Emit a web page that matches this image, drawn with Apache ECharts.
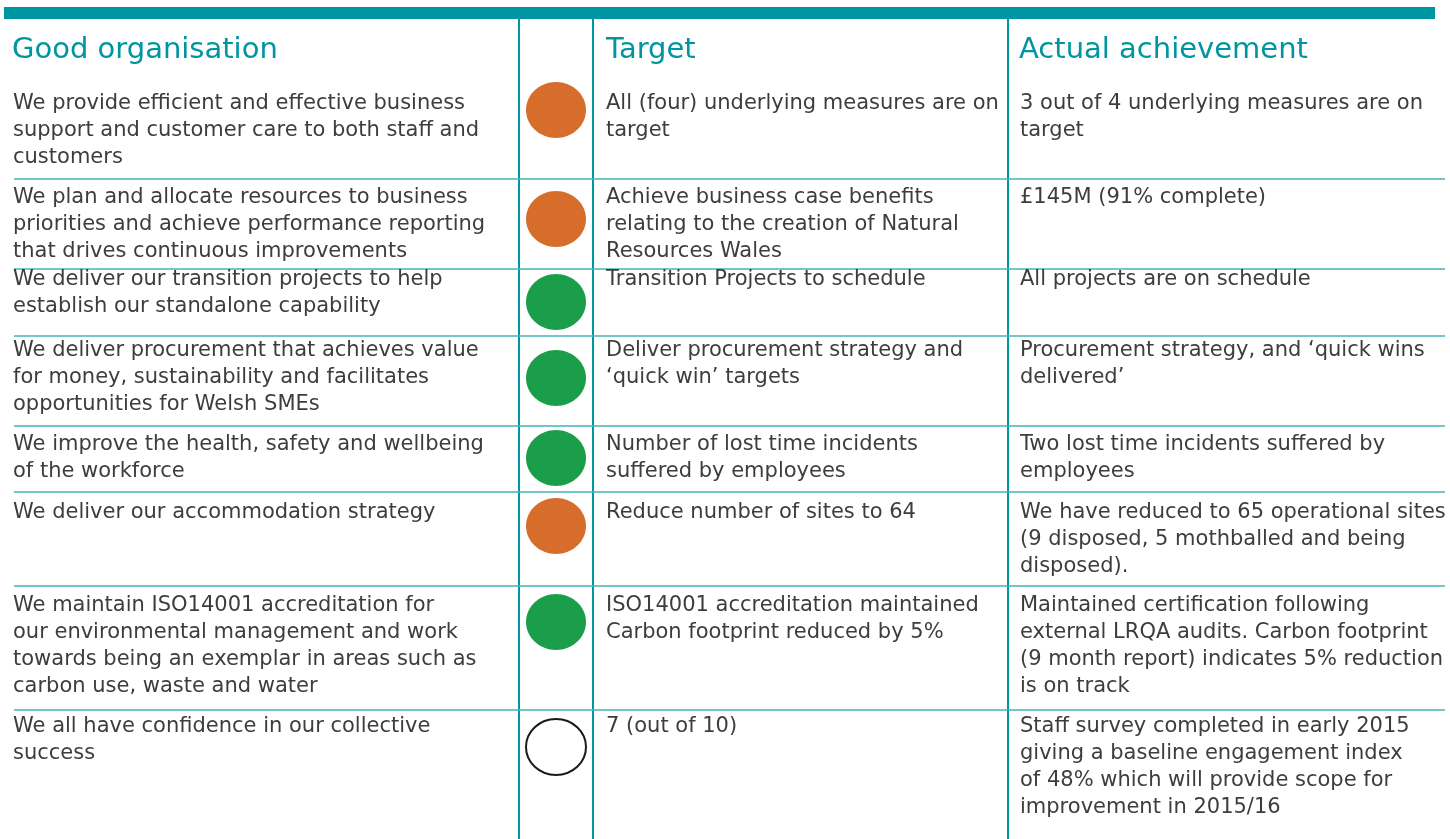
<!DOCTYPE html>
<html>
<head>
<meta charset="utf-8">
<script src="https://cdn.jsdelivr.net/npm/echarts@6/dist/echarts.min.js"></script>
<style>
html,body{margin:0;padding:0;background:#fff;}
#chart{width:1450px;height:839px;}
</style>
</head>
<body>
<div id="chart"></div>
<script>
// ---------- DATA ----------
const headers = ['Good organisation', 'Target', 'Actual achievement'];

const objectives = [
  'We provide efficient and effective business\nsupport and customer care to both staff and\ncustomers',
  'We plan and allocate resources to business\npriorities and achieve performance reporting\nthat drives continuous improvements',
  'We deliver our transition projects to help\nestablish our standalone capability',
  'We deliver procurement that achieves value\nfor money, sustainability and facilitates\nopportunities for Welsh SMEs',
  'We improve the health, safety and wellbeing\nof the workforce',
  'We deliver our accommodation strategy',
  'We maintain ISO14001 accreditation for\nour environmental management and work\ntowards being an exemplar in areas such as\ncarbon use, waste and water',
  'We all have confidence in our collective\nsuccess'
];

const statuses = ['amber', 'amber', 'green', 'green', 'green', 'amber', 'green', 'none'];

const targets = [
  'All (four) underlying measures are on\ntarget',
  'Achieve business case benefits\nrelating to the creation of Natural\nResources Wales',
  'Transition Projects to schedule',
  'Deliver procurement strategy and\n\u2018quick win\u2019 targets',
  'Number of lost time incidents\nsuffered by employees',
  'Reduce number of sites to 64',
  'ISO14001 accreditation maintained\nCarbon footprint reduced by 5%',
  '7 (out of 10)'
];

const achievements = [
  '3 out of 4 underlying measures are on\ntarget',
  '\u00a3145M (91% complete)',
  'All projects are on schedule',
  'Procurement strategy, and \u2018quick wins\ndelivered\u2019',
  'Two lost time incidents suffered by\nemployees',
  'We have reduced to 65 operational sites\n(9 disposed, 5 mothballed and being\ndisposed).',
  'Maintained certification following\nexternal LRQA audits. Carbon footprint\n(9 month report) indicates 5% reduction\nis on track',
  'Staff survey completed in early 2015\ngiving a baseline engagement index\nof 48% which will provide scope for\nimprovement in 2015/16'
];

// ---------- LAYOUT / STYLE ----------
const layout = {
  width: 1450, height: 839,
  colX: { desc: 13, status: 556, target: 606, actual: 1020 },
  divX: [519, 593, 1008],
  bar: { x0: 4, x1: 1435, y0: 7, y1: 19 },
  headerY: 50,
  lineX0: 14, lineX1: 1445,
  rowLine: [179, 269, 336, 426, 492, 586, 710],
  textY: [104, 198, 280, 351, 445, 513, 606, 727],
  circleY: [110, 219, 302, 378, 458, 526, 622, 747],
  circleRx: 30, circleRy: 28,
  lineH: 27
};
const style = {
  font: '"DejaVu Sans", sans-serif',
  bodySize: 21, headSize: 29,
  textColor: '#3d3d3d', headColor: '#0095a0',
  frameColor: '#0096a1', rowLineColor: '#44b3b9',
  statusColor: { amber: '#d66d2a', green: '#1a9e4a' }
};

// ---------- CHART ----------
const chart = echarts.init(document.getElementById('chart'), null, { renderer: 'canvas' });

function textEl(x, y, str, size, color, weight) {
  return {
    type: 'text',
    style: {
      x: x, y: y, text: str,
      fontFamily: style.font, fontSize: size, fontWeight: weight || 'normal',
      fill: color, lineHeight: layout.lineH,
      verticalAlign: 'top', align: 'left'
    }
  };
}

const rowIdx = objectives.map((_, i) => i);

const option = {
  animation: false,
  backgroundColor: '#ffffff',
  grid: { left: 0, right: 0, top: 0, bottom: 0 },
  xAxis: { type: 'value', min: 0, max: layout.width, show: false },
  yAxis: { type: 'value', min: 0, max: layout.height, inverse: true, show: false },
  series: [
    {
      type: 'custom',
      data: [0],
      silent: true,
      z: 1,
      renderItem: function (params, api) {
        const p0 = api.coord([layout.bar.x0, layout.bar.y0]);
        const p1 = api.coord([layout.bar.x1, layout.bar.y1]);
        const children = [{
          type: 'rect',
          shape: { x: p0[0], y: p0[1], width: p1[0] - p0[0], height: p1[1] - p0[1] },
          style: { fill: style.frameColor }
        }];
        layout.divX.forEach(function (dx) {
          const a = api.coord([dx, layout.bar.y1]);
          const b = api.coord([dx, layout.height]);
          children.push({
            type: 'line',
            shape: { x1: a[0], y1: a[1], x2: b[0], y2: b[1] },
            style: { stroke: style.frameColor, lineWidth: 2 }
          });
        });
        const hx = [layout.colX.desc - 1, layout.colX.target, layout.colX.actual - 1];
        headers.forEach(function (h, i) {
          const c = api.coord([hx[i], layout.headerY]);
          const t = textEl(c[0], c[1], h, style.headSize, style.headColor);
          t.style.verticalAlign = 'middle';
          t.style.lineHeight = style.headSize + 4;
          children.push(t);
        });
        return { type: 'group', children: children };
      }
    },
    {
      type: 'custom',
      data: rowIdx,
      silent: true,
      z: 2,
      renderItem: function (params, api) {
        const i = api.value(0);
        const children = [];
        const ty = layout.textY[i] - layout.lineH / 2;
        const cD = api.coord([layout.colX.desc, ty]);
        const cT = api.coord([layout.colX.target, ty]);
        const cA = api.coord([layout.colX.actual, ty]);
        children.push(textEl(cD[0], cD[1], objectives[i], style.bodySize, style.textColor));
        children.push(textEl(cT[0], cT[1], targets[i], style.bodySize, style.textColor));
        children.push(textEl(cA[0], cA[1], achievements[i], style.bodySize, style.textColor));
        const cc = api.coord([layout.colX.status, layout.circleY[i]]);
        const st = statuses[i];
        children.push({
          type: 'ellipse',
          shape: { cx: cc[0], cy: cc[1], rx: layout.circleRx, ry: layout.circleRy },
          style: st === 'none'
            ? { fill: '#ffffff', stroke: '#1a1a1a', lineWidth: 2 }
            : { fill: style.statusColor[st] }
        });
        if (i < layout.rowLine.length) {
          const a = api.coord([layout.lineX0, layout.rowLine[i]]);
          const b = api.coord([layout.lineX1, layout.rowLine[i]]);
          children.push({
            type: 'line',
            shape: { x1: a[0], y1: a[1], x2: b[0], y2: b[1] },
            style: { stroke: style.rowLineColor, lineWidth: 1.5 },
            z2: -1
          });
        }
        return { type: 'group', children: children };
      }
    }
  ]
};
chart.setOption(option);
</script>
</body>
</html>
